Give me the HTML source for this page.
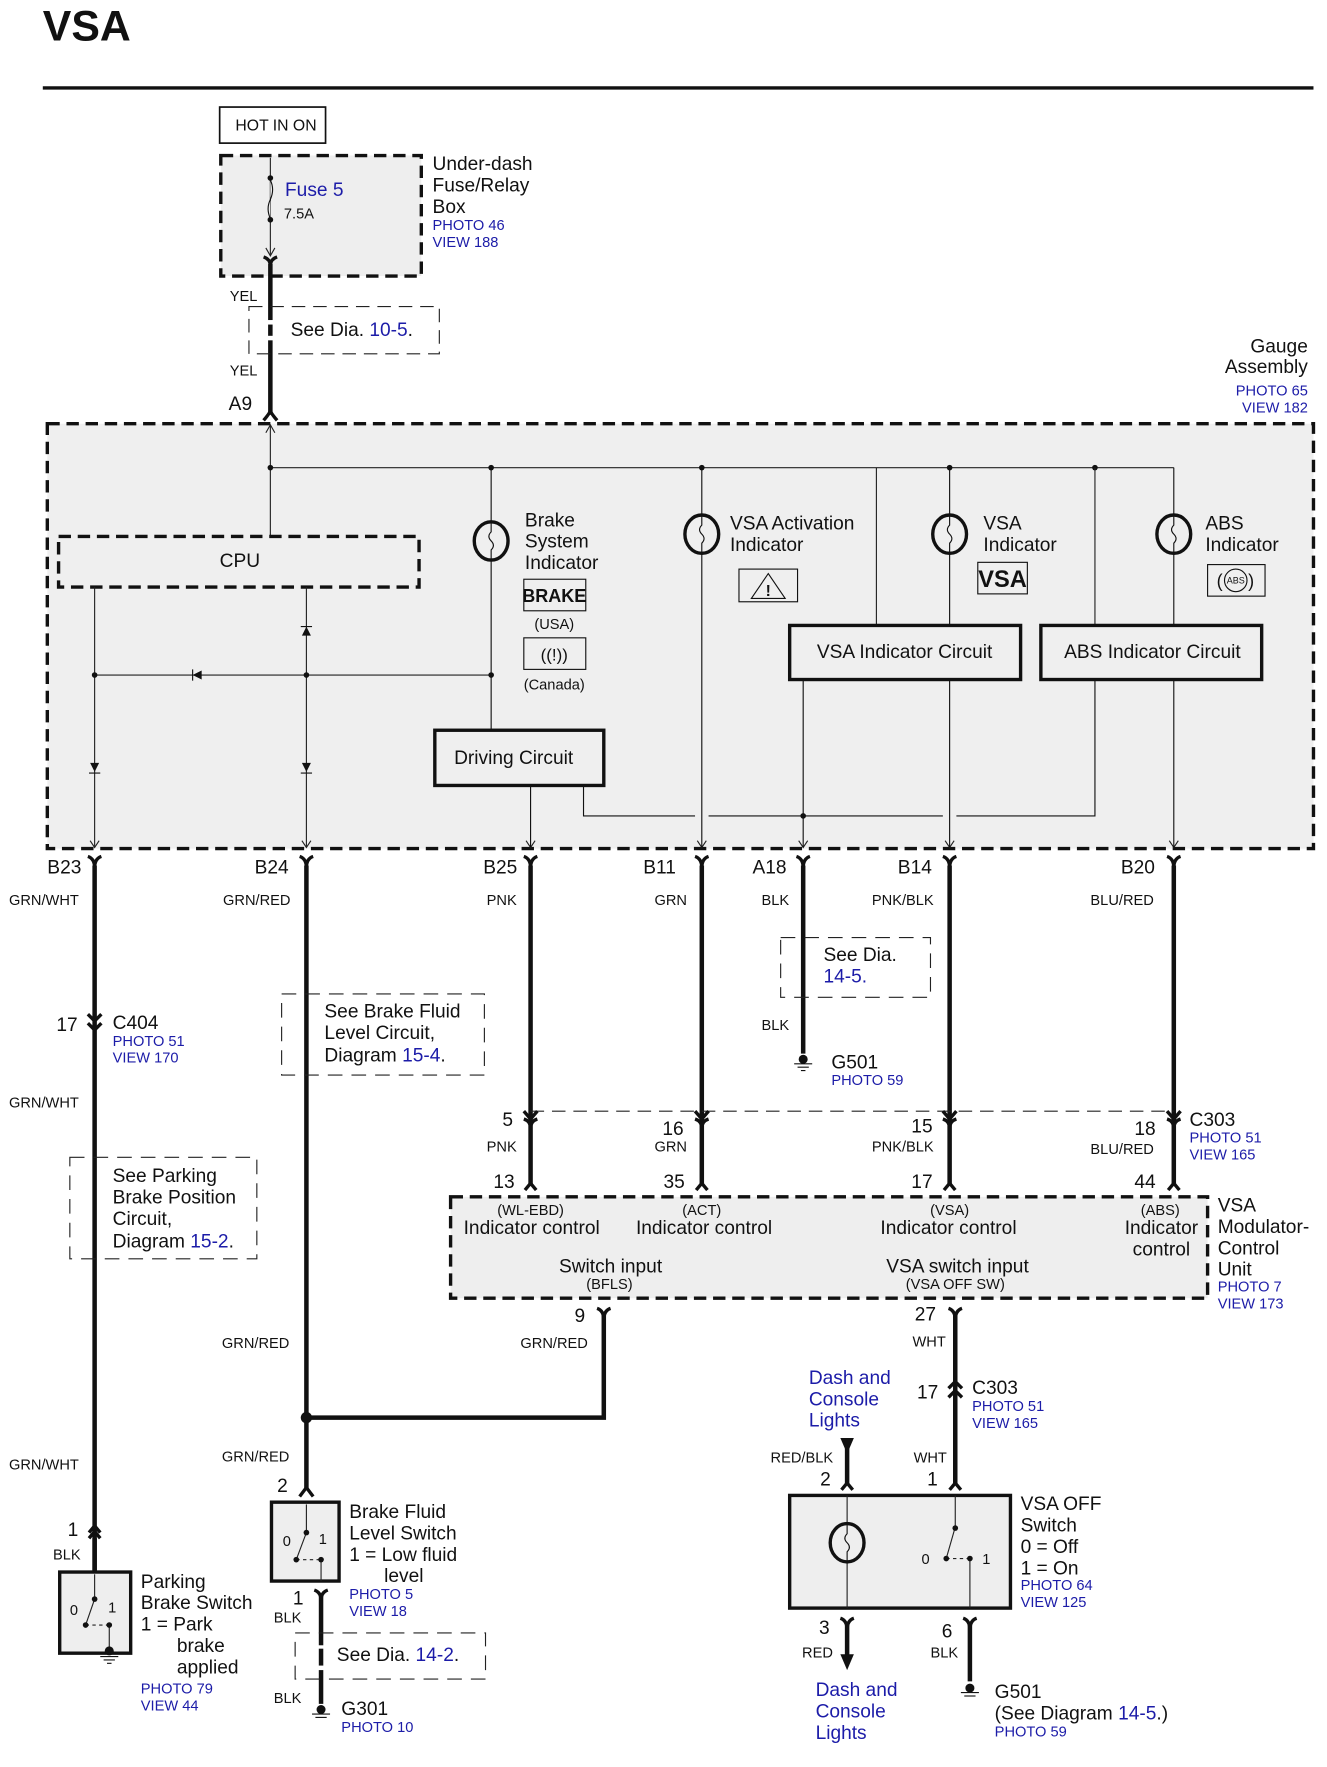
<!DOCTYPE html>
<html><head><meta charset="utf-8"><style>
html,body{margin:0;padding:0;background:#fff}
svg{display:block}
text{font-family:"Liberation Sans",Arial,sans-serif;fill:#111}
.b{fill:#1c1ca8}
.s{font-size:13px}
.m{font-size:17px}
.w{stroke:#111;stroke-width:4;fill:none}
.t{stroke:#222;stroke-width:1;fill:none}
.c{stroke:#111;stroke-width:3;fill:none}
</style></head><body>
<svg width="1327" height="1767" viewBox="0 0 1178 1568" preserveAspectRatio="none" xmlns="http://www.w3.org/2000/svg">
<text x="38" y="36" style="font-size:38px;font-weight:bold">VSA</text>
<line x1="38" y1="78" x2="1166" y2="78" stroke="#111" stroke-width="3"/>

<rect x="195" y="95" width="94" height="32" fill="#fff" stroke="#111" stroke-width="1.5"/>
<text x="209" y="116" class="s" style="font-size:14px">HOT IN ON</text>
<rect x="196" y="138" width="178" height="107" fill="#eee" stroke="#111" stroke-width="3" stroke-dasharray="11,6"/>
<line x1="240" y1="140" x2="240" y2="226" class="t"/>
<path d="M236,220 L240,227 L244,220" class="t"/>
<circle cx="240" cy="158" r="2.5" fill="#111"/><circle cx="240" cy="195" r="2.5" fill="#111"/>
<path d="M240,160 q4,8 0,17 q-4,8 0,17" fill="#eee" stroke="#111"/>
<text x="253" y="174" class="b m">Fuse 5</text>
<text x="252" y="194" class="s">7.5A</text>
<text x="384" y="151" class="m">Under-dash</text>
<text x="384" y="170" class="m">Fuse/Relay</text>
<text x="384" y="189" class="m">Box</text>
<text x="384" y="204" class="b s">PHOTO 46</text>
<text x="384" y="219" class="b s">VIEW 188</text>
<path d="M234,228 Q240,230 240,236 Q240,230 246,228" class="c"/>
<line x1="240" y1="234" x2="240" y2="368" class="w"/>
<text x="204" y="267" class="s">YEL</text>
<rect x="221" y="272" width="169" height="42" fill="none" stroke="#222" stroke-dasharray="12,7"/>
<rect x="236" y="284" width="8" height="18" fill="#fff"/>
<line x1="240" y1="288" x2="240" y2="298" class="w"/>
<text x="258" y="298" class="m">See  Dia. <tspan class="b">10-5</tspan>.</text>
<text x="204" y="333" class="s">YEL</text>
<text x="203" y="364" class="m">A9</text>
<path d="M234,373 Q240,366 240,364 Q240,366 246,373" class="c"/>

<text x="1161" y="313" class="m" text-anchor="end">Gauge</text>
<text x="1161" y="331" class="m" text-anchor="end">Assembly</text>
<text x="1161" y="351" class="b s" text-anchor="end">PHOTO 65</text>
<text x="1161" y="366" class="b s" text-anchor="end">VIEW 182</text>

<rect x="42" y="376" width="1124" height="377" fill="#efefef" stroke="#111" stroke-width="3" stroke-dasharray="11,6"/>
<line x1="240" y1="378" x2="240" y2="476" class="t"/>
<path d="M236,384 L240,377 L244,384" class="t"/>
<line x1="240" y1="415" x2="1042" y2="415" class="t"/>
<g fill="#111"><circle cx="240" cy="415" r="2.5"/><circle cx="436" cy="415" r="2.5"/><circle cx="623" cy="415" r="2.5"/><circle cx="843" cy="415" r="2.5"/><circle cx="972" cy="415" r="2.5"/></g>
<line x1="778" y1="415" x2="778" y2="555" class="t"/>
<line x1="972" y1="415" x2="972" y2="555" class="t"/>
<rect x="52" y="476" width="320" height="45" fill="none" stroke="#111" stroke-width="3" stroke-dasharray="11,6"/>
<text x="195" y="503" class="m">CPU</text>
<line x1="84" y1="521" x2="84" y2="752" class="t"/>
<line x1="272" y1="521" x2="272" y2="752" class="t"/>
<line x1="84" y1="599" x2="436" y2="599" class="t"/>
<g fill="#111"><circle cx="84" cy="599" r="2.5"/><circle cx="272" cy="599" r="2.5"/><circle cx="436" cy="599" r="2.5"/>
<path d="M80,685 L88,685 L84,677Z" transform="rotate(180 84 681)"/><line x1="79" y1="686" x2="89" y2="686" stroke="#111"/>
<path d="M268,685 L276,685 L272,677Z" transform="rotate(180 272 681)"/><line x1="267" y1="686" x2="277" y2="686" stroke="#111"/>
<path d="M268,564 L276,564 L272,556Z"/><line x1="267" y1="556" x2="277" y2="556" stroke="#111"/>
<path d="M171,599 L179,595 L179,603Z"/><line x1="171" y1="594" x2="171" y2="604" stroke="#111"/></g>
<g class="t"><path d="M80,746 L84,752 L88,746"/><path d="M268,746 L272,752 L276,746"/><path d="M467,746 L471,752 L475,746"/><path d="M619,746 L623,752 L627,746"/><path d="M709,746 L713,752 L717,746"/><path d="M839,746 L843,752 L847,746"/><path d="M1038,746 L1042,752 L1046,746"/></g>

<g fill="none" stroke="#111">
<line x1="436" y1="415" x2="436" y2="648" stroke-width="1"/>
<line x1="623" y1="415" x2="623" y2="752"/>
<line x1="843" y1="415" x2="843" y2="555"/>
<line x1="843" y1="603" x2="843" y2="752"/>
<line x1="1042" y1="415" x2="1042" y2="555"/>
<line x1="1042" y1="603" x2="1042" y2="752"/>
<line x1="713" y1="603" x2="713" y2="752"/>
<line x1="471" y1="697" x2="471" y2="752"/>
<path d="M518,697 L518,724 L617,724 M629,724 L837,724 M849,724 L972,724 L972,603"/>
</g>
<circle cx="713" cy="724" r="2.5" fill="#111"/>
<g fill="#efefef" stroke="#111">
<ellipse cx="436" cy="480" rx="15" ry="17" stroke-width="3"/>
<ellipse cx="623" cy="474" rx="15" ry="17" stroke-width="3"/>
<ellipse cx="843" cy="474" rx="15" ry="17" stroke-width="3"/>
<ellipse cx="1042" cy="474" rx="15" ry="17" stroke-width="3"/>
</g>
<g fill="none" stroke="#111"><path d="M436,464 v8 q-4,4 0,8 q4,4 0,8 v8"/><path d="M623,458 v8 q-4,4 0,8 q4,4 0,8 v8"/><path d="M843,458 v8 q-4,4 0,8 q4,4 0,8 v8"/><path d="M1042,458 v8 q-4,4 0,8 q4,4 0,8 v8"/></g>

<text x="466" y="467" class="m">Brake</text>
<text x="466" y="486" class="m">System</text>
<text x="466" y="505" class="m">Indicator</text>
<rect x="465" y="514" width="55" height="28" fill="#efefef" stroke="#111"/>
<text x="492" y="534" text-anchor="middle" style="font-size:16px;font-weight:bold">BRAKE</text>
<text x="492" y="558" text-anchor="middle" class="s">(USA)</text>
<rect x="465" y="566" width="55" height="28" fill="#efefef" stroke="#111"/>
<text x="492" y="586" text-anchor="middle" style="font-size:15px">((!))</text>
<text x="492" y="612" text-anchor="middle" class="s">(Canada)</text>

<text x="648" y="470" class="m">VSA Activation</text>
<text x="648" y="489" class="m">Indicator</text>
<rect x="656" y="505" width="52" height="29" fill="#efefef" stroke="#111"/>
<path d="M682,509 L697,531 L667,531Z" fill="none" stroke="#111"/>
<text x="682" y="529" text-anchor="middle" style="font-size:14px;font-weight:bold">!</text>

<text x="873" y="470" class="m">VSA</text>
<text x="873" y="489" class="m">Indicator</text>
<rect x="868" y="499" width="44" height="28" fill="#efefef" stroke="#111"/>
<text x="890" y="521" text-anchor="middle" style="font-size:21px;font-weight:bold">VSA</text>

<text x="1070" y="470" class="m">ABS</text>
<text x="1070" y="489" class="m">Indicator</text>
<rect x="1072" y="501" width="51" height="28" fill="#efefef" stroke="#111"/>
<ellipse cx="1097" cy="515" rx="10" ry="10" fill="none" stroke="#111"/>
<text x="1097" y="518" text-anchor="middle" style="font-size:8px">ABS</text>
<text x="1080" y="521" style="font-size:16px">(</text><text x="1108" y="521" style="font-size:16px">)</text>

<rect x="701" y="555" width="205" height="48" fill="#efefef" stroke="#111" stroke-width="3"/>
<text x="803" y="584" class="m" text-anchor="middle">VSA Indicator Circuit</text>
<rect x="924" y="555" width="196" height="48" fill="#efefef" stroke="#111" stroke-width="3"/>
<text x="1023" y="584" class="m" text-anchor="middle">ABS Indicator Circuit</text>
<rect x="386" y="648" width="150" height="49" fill="#efefef" stroke="#111" stroke-width="3"/>
<text x="456" y="678" class="m" text-anchor="middle">Driving Circuit</text>

<g class="c"><path d="M78,760 Q84,762 84,770 Q84,762 90,760"/><path d="M266,760 Q272,762 272,770 Q272,762 278,760"/><path d="M465,760 Q471,762 471,770 Q471,762 477,760"/><path d="M617,760 Q623,762 623,770 Q623,762 629,760"/><path d="M707,760 Q713,762 713,770 Q713,762 719,760"/><path d="M837,760 Q843,762 843,770 Q843,762 849,760"/><path d="M1036,760 Q1042,762 1042,770 Q1042,762 1048,760"/></g>
<text x="42" y="775" class="m">B23</text><text x="226" y="775" class="m">B24</text><text x="429" y="775" class="m">B25</text><text x="571" y="775" class="m">B11</text><text x="668" y="775" class="m">A18</text><text x="797" y="775" class="m">B14</text><text x="995" y="775" class="m">B20</text>
<text x="8" y="803" class="s">GRN/WHT</text><text x="198" y="803" class="s">GRN/RED</text><text x="432" y="803" class="s">PNK</text><text x="581" y="803" class="s">GRN</text><text x="676" y="803" class="s">BLK</text><text x="774" y="803" class="s">PNK/BLK</text><text x="968" y="803" class="s">BLU/RED</text>

<g class="w">
<line x1="84" y1="768" x2="84" y2="1395"/>
<line x1="272" y1="768" x2="272" y2="1322"/>
<line x1="471" y1="768" x2="471" y2="1052"/>
<line x1="623" y1="768" x2="623" y2="1052"/>
<line x1="713" y1="768" x2="713" y2="935"/>
<line x1="843" y1="768" x2="843" y2="1052"/>
<line x1="1042" y1="768" x2="1042" y2="1052"/>
<path d="M272,1258 L536,1258 L536,1166"/>
<line x1="848" y1="1166" x2="848" y2="1318"/>
<line x1="752" y1="1285" x2="752" y2="1318"/>
<line x1="285" y1="1414" x2="285" y2="1512"/>
<line x1="752" y1="1440" x2="752" y2="1472"/>
<line x1="861" y1="1440" x2="861" y2="1492"/>
</g>
<circle cx="272" cy="1258" r="5" fill="#111"/>
<path d="M78,900 L84,906 L90,900 M78,908 L84,914 L90,908" class="c"/>
<text x="50" y="915" class="m">17</text>
<text x="100" y="913" class="m">C404</text>
<text x="100" y="928" class="b s">PHOTO 51</text>
<text x="100" y="943" class="b s">VIEW 170</text>
<text x="8" y="983" class="s">GRN/WHT</text>
<g fill="none" stroke="#222" stroke-dasharray="13,8">
<rect x="250" y="882" width="180" height="72"/>
<rect x="62" y="1027" width="166" height="90"/>
<rect x="693" y="832" width="133" height="53"/>
<rect x="262" y="1449" width="169" height="41"/>
</g>
<text x="288" y="903" class="m">See Brake Fluid</text>
<text x="288" y="922" class="m">Level Circuit,</text>
<text x="288" y="942" class="m">Diagram <tspan class="b">15-4</tspan>.</text>
<text x="100" y="1049" class="m">See Parking</text>
<text x="100" y="1068" class="m">Brake Position</text>
<text x="100" y="1087" class="m">Circuit,</text>
<text x="100" y="1107" class="m">Diagram <tspan class="b">15-2</tspan>.</text>
<text x="731" y="853" class="m">See  Dia.</text>
<text x="731" y="872" class="b m">14-5.</text>
<text x="676" y="914" class="s">BLK</text>
<circle cx="713" cy="940" r="4" fill="#111"/><line x1="705" y1="944" x2="721" y2="944" stroke="#111"/><line x1="708" y1="947" x2="718" y2="947" stroke="#111"/><line x1="711" y1="950" x2="715" y2="950" stroke="#111"/>
<text x="738" y="948" class="m">G501</text>
<text x="738" y="963" class="b s">PHOTO 59</text>

<line x1="471" y1="986" x2="1042" y2="986" stroke="#222" stroke-dasharray="12,7"/>
<g class="c"><path d="M465,986 L471,993 L477,986 M465,993 Q471,995 471,1001 Q471,995 477,993"/><path d="M617,986 L623,993 L629,986 M617,993 Q623,995 623,1001 Q623,995 629,993"/><path d="M837,986 L843,993 L849,986 M837,993 Q843,995 843,1001 Q843,995 849,993"/><path d="M1036,986 L1042,993 L1048,986 M1036,993 Q1042,995 1042,1001 Q1042,995 1048,993"/></g>
<text x="446" y="999" class="m">5</text><text x="588" y="1007" class="m">16</text><text x="809" y="1005" class="m">15</text><text x="1007" y="1007" class="m">18</text>
<text x="1056" y="999" class="m">C303</text>
<text x="1056" y="1014" class="b s">PHOTO 51</text>
<text x="1056" y="1029" class="b s">VIEW 165</text>
<text x="432" y="1022" class="s">PNK</text><text x="581" y="1022" class="s">GRN</text><text x="774" y="1022" class="s">PNK/BLK</text><text x="968" y="1024" class="s">BLU/RED</text>
<g class="c" stroke-width="2.5"><path d="M466,1056 L471,1050 L476,1056"/><path d="M618,1056 L623,1050 L628,1056"/><path d="M838,1056 L843,1050 L848,1056"/><path d="M1037,1056 L1042,1050 L1047,1056"/></g>
<text x="438" y="1054" class="m">13</text><text x="589" y="1054" class="m">35</text><text x="809" y="1054" class="m">17</text><text x="1007" y="1054" class="m">44</text>

<rect x="400" y="1062" width="672" height="90" fill="#eee" stroke="#111" stroke-width="3" stroke-dasharray="11,6"/>
<g class="s" text-anchor="middle"><text x="471" y="1078">(WL-EBD)</text><text x="623" y="1078">(ACT)</text><text x="843" y="1078">(VSA)</text><text x="1030" y="1078">(ABS)</text><text x="541" y="1144">(BFLS)</text><text x="848" y="1144">(VSA OFF SW)</text></g>
<g class="m" text-anchor="middle"><text x="472" y="1095">Indicator control</text><text x="625" y="1095">Indicator control</text><text x="842" y="1095">Indicator control</text><text x="1031" y="1095">Indicator</text><text x="1031" y="1114">control</text><text x="542" y="1129">Switch input</text><text x="850" y="1129">VSA switch input</text></g>
<text x="1081" y="1075" class="m">VSA</text>
<text x="1081" y="1094" class="m">Modulator-</text>
<text x="1081" y="1113" class="m">Control</text>
<text x="1081" y="1132" class="m">Unit</text>
<text x="1081" y="1146" class="b s">PHOTO 7</text>
<text x="1081" y="1161" class="b s">VIEW 173</text>
<g class="c"><path d="M530,1161 Q536,1163 536,1171 Q536,1163 542,1161"/><path d="M842,1161 Q848,1163 848,1171 Q848,1163 854,1161"/></g>
<text x="510" y="1173" class="m">9</text><text x="812" y="1172" class="m">27</text>
<text x="462" y="1196" class="s">GRN/RED</text><text x="197" y="1196" class="s">GRN/RED</text><text x="810" y="1195" class="s">WHT</text>
<text x="197" y="1297" class="s">GRN/RED</text><text x="8" y="1304" class="s">GRN/WHT</text>
<path d="M842,1232 L848,1226 L854,1232 M842,1240 L848,1234 L854,1240" class="c"/>
<text x="814" y="1241" class="m">17</text>
<text x="863" y="1237" class="m">C303</text>
<text x="863" y="1252" class="b s">PHOTO 51</text>
<text x="863" y="1267" class="b s">VIEW 165</text>
<text x="718" y="1228" class="b m">Dash and</text>
<text x="718" y="1247" class="b m">Console</text>
<text x="718" y="1266" class="b m">Lights</text>
<path d="M746,1276 L758,1276 L752,1290Z" fill="#111"/>
<text x="684" y="1298" class="s">RED/BLK</text><text x="811" y="1298" class="s">WHT</text>
<g class="c" stroke-width="2.5"><path d="M747,1322 L752,1316 L757,1322"/><path d="M843,1322 L848,1316 L853,1322"/><path d="M266,1328 L272,1320 L278,1328"/><path d="M79,1365 L84,1359 L89,1365 M79,1360 L84,1354 L89,1360"/></g>
<text x="728" y="1318" class="m">2</text><text x="823" y="1318" class="m">1</text><text x="246" y="1324" class="m">2</text><text x="60" y="1363" class="m">1</text>
<text x="47" y="1384" class="s">BLK</text>
<line x1="84" y1="1365" x2="84" y2="1395" class="w"/>

<rect x="701" y="1327" width="196" height="100" fill="#eee" stroke="#111" stroke-width="3"/>
<g fill="none" stroke="#222"><line x1="752" y1="1327" x2="752" y2="1427"/><line x1="848" y1="1327" x2="848" y2="1355"/><line x1="848" y1="1355" x2="840" y2="1383"/><line x1="861" y1="1383" x2="861" y2="1427"/><line x1="840" y1="1383" x2="861" y2="1383" stroke-dasharray="3,3"/></g>
<ellipse cx="752" cy="1369" rx="15" ry="17" fill="#eee" stroke="#111" stroke-width="3"/>
<path d="M752,1353 v8 q-4,4 0,8 q4,4 0,8 v8" fill="none" stroke="#111"/>
<circle cx="848" cy="1356" r="2.5" fill="#111"/><circle cx="840" cy="1383" r="2.5" fill="#111"/><circle cx="861" cy="1383" r="2.5" fill="#111"/>
<text x="818" y="1388" class="s">0</text><text x="872" y="1388" class="s">1</text>
<text x="906" y="1340" class="m">VSA OFF</text><text x="906" y="1359" class="m">Switch</text><text x="906" y="1378" class="m">0 = Off</text><text x="906" y="1397" class="m">1 = On</text>
<text x="906" y="1411" class="b s">PHOTO 64</text><text x="906" y="1426" class="b s">VIEW 125</text>
<g class="c"><path d="M746,1436 Q752,1438 752,1446 Q752,1438 758,1436"/><path d="M855,1436 Q861,1438 861,1446 Q861,1438 867,1436"/></g>
<text x="727" y="1450" class="m">3</text><text x="836" y="1453" class="m">6</text>
<text x="712" y="1471" class="s">RED</text><text x="826" y="1471" class="s">BLK</text>
<path d="M746,1468 L758,1468 L752,1482Z" fill="#111"/>
<text x="724" y="1505" class="b m">Dash and</text><text x="724" y="1524" class="b m">Console</text><text x="724" y="1543" class="b m">Lights</text>
<circle cx="861" cy="1498" r="4" fill="#111"/><line x1="853" y1="1502" x2="869" y2="1502" stroke="#111"/><line x1="856" y1="1505" x2="866" y2="1505" stroke="#111"/>
<text x="883" y="1507" class="m">G501</text>
<text x="883" y="1526" class="m">(See Diagram <tspan class="b">14-5</tspan>.)</text>
<text x="883" y="1541" class="b s">PHOTO 59</text>

<rect x="241" y="1333" width="60" height="70" fill="#eee" stroke="#111" stroke-width="3"/>
<g fill="none" stroke="#222"><line x1="272" y1="1335" x2="272" y2="1360"/><line x1="272" y1="1360" x2="263" y2="1384"/><line x1="263" y1="1384" x2="285" y2="1384" stroke-dasharray="3,3"/><line x1="285" y1="1384" x2="285" y2="1403"/></g>
<circle cx="272" cy="1360" r="2.5" fill="#111"/><circle cx="263" cy="1384" r="2.5" fill="#111"/><circle cx="285" cy="1384" r="2.5" fill="#111"/>
<text x="251" y="1372" class="s">0</text><text x="283" y="1370" class="s">1</text>
<text x="310" y="1347" class="m">Brake Fluid</text><text x="310" y="1366" class="m">Level Switch</text><text x="310" y="1385" class="m">1 = Low fluid</text><text x="341" y="1404" class="m">level</text>
<text x="310" y="1419" class="b s">PHOTO 5</text><text x="310" y="1434" class="b s">VIEW 18</text>
<path d="M279,1411 Q285,1413 285,1420 Q285,1413 291,1411" class="c"/>
<text x="260" y="1424" class="m">1</text><text x="243" y="1440" class="s">BLK</text>
<rect x="281" y="1460" width="8" height="22" fill="#fff"/><line x1="285" y1="1463" x2="285" y2="1478" class="w"/>
<text x="299" y="1474" class="m">See  Dia. <tspan class="b">14-2</tspan>.</text>
<text x="243" y="1511" class="s">BLK</text>
<circle cx="285" cy="1517" r="4" fill="#111"/><line x1="277" y1="1521" x2="293" y2="1521" stroke="#111"/><line x1="280" y1="1524" x2="290" y2="1524" stroke="#111"/>
<text x="303" y="1522" class="m">G301</text><text x="303" y="1537" class="b s">PHOTO 10</text>

<rect x="53" y="1395" width="63" height="72" fill="#eee" stroke="#111" stroke-width="3"/>
<g fill="none" stroke="#222"><line x1="84" y1="1397" x2="84" y2="1419"/><line x1="84" y1="1419" x2="76" y2="1442"/><line x1="76" y1="1442" x2="97" y2="1442" stroke-dasharray="3,3"/><line x1="97" y1="1442" x2="97" y2="1467"/></g>
<circle cx="84" cy="1419" r="2.5" fill="#111"/><circle cx="76" cy="1442" r="2.5" fill="#111"/><circle cx="97" cy="1442" r="2.5" fill="#111"/>
<text x="62" y="1433" class="s">0</text><text x="96" y="1431" class="s">1</text>
<circle cx="97" cy="1465" r="4" fill="#111"/><line x1="89" y1="1470" x2="105" y2="1470" stroke="#111"/><line x1="92" y1="1473" x2="102" y2="1473" stroke="#111"/><line x1="95" y1="1476" x2="99" y2="1476" stroke="#111"/>
<text x="125" y="1409" class="m">Parking</text><text x="125" y="1428" class="m">Brake Switch</text><text x="125" y="1447" class="m">1 = Park</text><text x="157" y="1466" class="m">brake</text><text x="157" y="1485" class="m">applied</text>
<text x="125" y="1503" class="b s">PHOTO 79</text><text x="125" y="1518" class="b s">VIEW 44</text>
</svg>
</body></html>
